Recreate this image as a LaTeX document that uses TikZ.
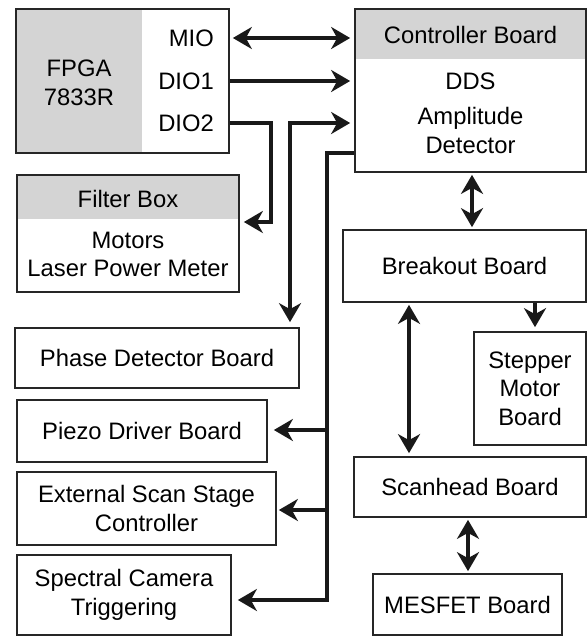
\documentclass[tikz,border=0pt]{standalone}
\usepackage{fontspec}
\setmainfont{Liberation Sans}
\usetikzlibrary{arrows.meta,calc}
\definecolor{hdr}{HTML}{D4D4D4}
\begin{document}
\begin{tikzpicture}[x=1pt,y=-1pt,
  box/.style={draw=black!85,line width=1.7pt,inner sep=0pt,align=center,
    font=\fontsize{23.8}{28.5}\selectfont},
  txt/.style={inner sep=0pt,align=center,font=\fontsize{23.8}{28.5}\selectfont},
  conn/.style={line width=3.8pt,black!90,
    arrows={-Stealth[length=19pt,width=22pt,inset=6pt]}},
  dconn/.style={line width=3.8pt,black!90,
    arrows={Stealth[length=19pt,width=22pt,inset=6pt]-Stealth[length=19pt,width=22pt,inset=6pt]}},
  plain/.style={line width=3.8pt,black!90}]
\useasboundingbox (0,0) rectangle (587,637);
% header fills
\fill[hdr] (16,9) rectangle (142,153);
\fill[hdr] (17,175) rectangle (239,219);
\fill[hdr] (355,9) rectangle (586,59);
% boxes
\node[box,minimum width=213,minimum height=144] (fpga) at (122.5,81) {};
\node[box,minimum width=222,minimum height=117] (filter) at (128,233.5) {};
\node[box,minimum width=231,minimum height=163] (ctrl) at (470.5,90.5) {};
\node[box,minimum width=284,minimum height=60] (phase) at (157,358) {Phase Detector Board};
\node[box,minimum width=250,minimum height=62] (piezo) at (142,431) {Piezo Driver Board};
\node[box,minimum width=259,minimum height=73] (ext) at (146.5,508.5) {External Scan Stage\\Controller};
\node[box,minimum width=214,minimum height=80] (spec) at (124,595) {Spectral Camera\\Triggering};
\node[box,minimum width=243,minimum height=72] (brk) at (464.5,266) {Breakout Board};
\node[box,minimum width=112,minimum height=113] (step) at (530,388.5) {Stepper\\Motor\\Board};
\node[box,minimum width=232,minimum height=60] (scan) at (470,487) {Scanhead Board};
\node[box,minimum width=189,minimum height=61] (mes) at (467.5,604.5) {MESFET Board};
% texts
\node[txt] (fpgat) at (79,83) {FPGA\\7833R};
\node[txt,anchor=east] (mio) at (214,38) {MIO};
\node[txt,anchor=east] (dio1) at (214,81) {DIO1};
\node[txt,anchor=east] (dio2) at (214,123) {DIO2};
\node[txt] (filtert) at (128,199) {Filter Box};
\node[txt] (filterb) at (128,254.5) {Motors\\Laser Power Meter};
\node[txt] (ctrlt) at (470.5,35) {Controller Board};
\node[txt] (dds) at (470.5,81) {DDS};
\node[txt] (ampd) at (470.5,130.5) {Amplitude\\Detector};
% coordinates
\coordinate (d2) at (271,222);
\coordinate (p) at (290,123);
\coordinate (t) at (327,153);
\coordinate (tb) at (327,600);
\coordinate (b1) at (327,430);
\coordinate (b2) at (327,510);
% connectors
\draw[dconn,shorten <=3pt,shorten >=4pt] (fpga.east |- mio) -- (ctrl.west |- mio);
\draw[conn,shorten >=4pt] (fpga.east |- dio1) -- (ctrl.west |- dio1);
\draw[conn,shorten >=4pt] (fpga.east |- dio2) -| (d2) -- (filter.east |- d2);
\draw[dconn,shorten <=5pt,shorten >=4pt] (phase.north -| p) -- (p) -- (ctrl.west |- p);
\draw[conn,shorten >=6pt] (ctrl.west |- t) -| (tb) -- (spec.east |- tb);
\draw[conn,shorten >=6pt] (b1) -- (piezo.east |- b1);
\draw[conn,shorten >=2pt] (b2) -- (ext.east |- b2);
\draw[dconn,shorten <=2pt,shorten >=2pt] (ctrl.south -| 472,0) -- (brk.north -| 472,0);
\draw[dconn,shorten <=2pt,shorten >=3pt] (brk.south -| 409,0) -- (scan.north -| 409,0);
\draw[conn,shorten >=4pt] (brk.south -| 535,0) -- (step.north -| 535,0);
\draw[dconn,shorten <=2pt,shorten >=2pt] (scan.south -| 468,0) -- (mes.north -| 468,0);
\end{tikzpicture}
\end{document}
